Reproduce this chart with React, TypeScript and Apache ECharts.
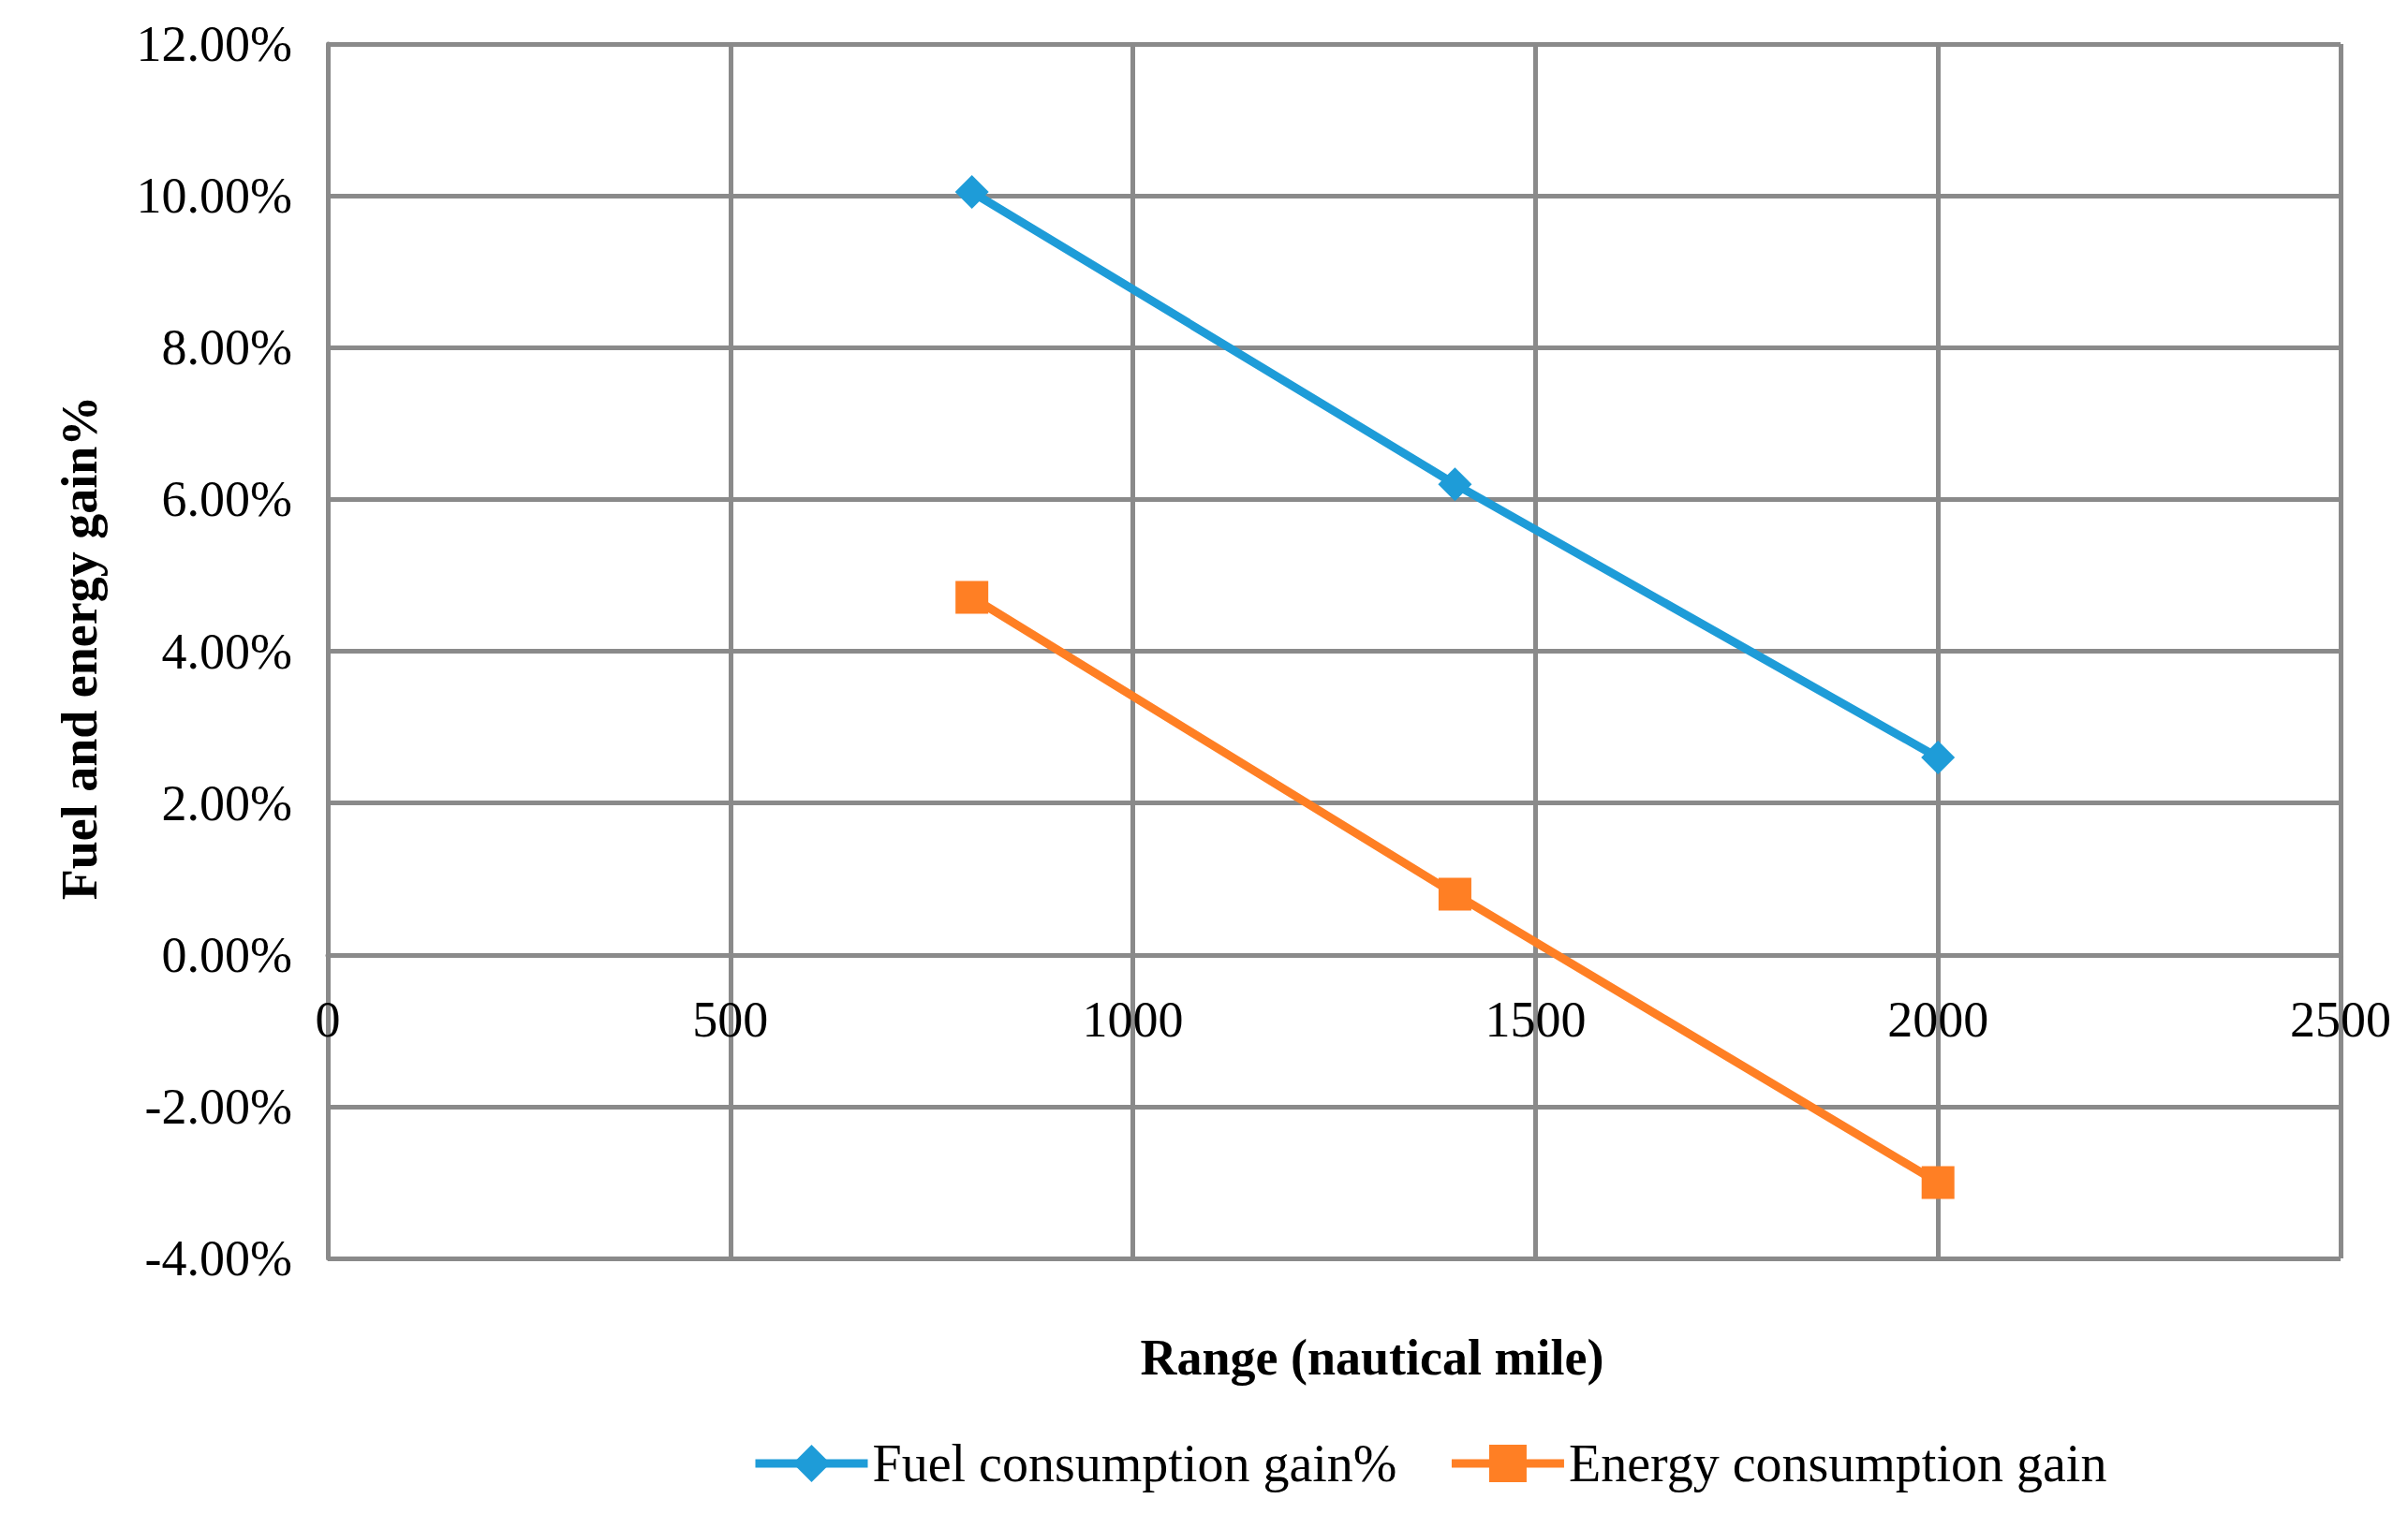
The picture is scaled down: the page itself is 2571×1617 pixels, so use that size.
import React, { useEffect, useRef } from "react";
import * as echarts from "echarts";

const ranges = [800, 1400, 2000];
const fuelGain = [10.05, 6.2, 2.6];
const energyGain = [4.71, 0.8, -3.0];
const seriesNames = ["Fuel consumption gain%", "Energy consumption gain"];
const xTitle = "Range (nautical mile)";
const yTitle = "Fuel and energy gain%";

const FONT = "'Liberation Serif', 'Times New Roman', serif";
const GRID = "#8a8a8a";

export default function App() {
  const ref = useRef<HTMLDivElement>(null);
  useEffect(() => {
    if (!ref.current) return;
    const chart = echarts.init(ref.current, undefined, { renderer: "svg" });
    chart.setOption({
      animation: false,
      backgroundColor: "#ffffff",
      grid: { left: 350, right: 72, top: 47, bottom: 273 },
      xAxis: {
        type: "value",
        min: 0,
        max: 2500,
        interval: 500,
        offset: -324.25,
        axisLine: { show: true, onZero: false, lineStyle: { color: GRID, width: 5 } },
        axisTick: { show: false },
        axisLabel: {
          color: "#000",
          fontFamily: FONT,
          fontSize: 54,
          margin: 42,
          formatter: (v: number) => String(v),
        },
        splitLine: { show: true, lineStyle: { color: GRID, width: 5 } },
      },
      yAxis: {
        type: "value",
        min: -4,
        max: 12,
        interval: 2,
        axisLine: { show: true, onZero: false, lineStyle: { color: GRID, width: 5 } },
        axisTick: { show: false },
        axisLabel: {
          color: "#000",
          fontFamily: FONT,
          fontSize: 54,
          margin: 38,
          formatter: (v: number) => v.toFixed(2) + "%",
        },
        splitLine: { show: true, lineStyle: { color: GRID, width: 5 } },
      },
      legend: {
        left: 797,
        top: 1530,
        itemWidth: 120,
        itemHeight: 50,
        itemGap: 54,
        lineStyle: { width: 9 },
        textStyle: { color: "#000", fontFamily: FONT, fontSize: 56 },
        data: seriesNames,
      },
      graphic: [
        {
          type: "text",
          x: 1465,
          y: 1450,
          style: {
            text: xTitle,
            font: `bold 54px ${FONT}`,
            fill: "#000",
            textAlign: "center",
            textVerticalAlign: "middle",
          },
        },
        {
          type: "text",
          x: 85,
          y: 692,
          rotation: Math.PI / 2,
          style: {
            text: yTitle,
            font: `bold 54px ${FONT}`,
            fill: "#000",
            textAlign: "center",
            textVerticalAlign: "middle",
          },
        },
      ],
      series: [
        {
          name: seriesNames[0],
          type: "line",
          data: ranges.map((r, i) => [r, fuelGain[i]]),
          symbol: "diamond",
          symbolSize: 36,
          lineStyle: { color: "#1E9CD8", width: 9 },
          itemStyle: { color: "#1E9CD8" },
        },
        {
          name: seriesNames[1],
          type: "line",
          data: ranges.map((r, i) => [r, energyGain[i]]),
          symbol: "rect",
          symbolSize: 35,
          lineStyle: { color: "#FF7F24", width: 9 },
          itemStyle: { color: "#FF7F24" },
        },
      ],
    });
    return () => chart.dispose();
  }, []);
  return (
    <div
      ref={ref}
      style={{ position: "absolute", left: 0, top: 0, width: 2571, height: 1617 }}
    />
  );
}
